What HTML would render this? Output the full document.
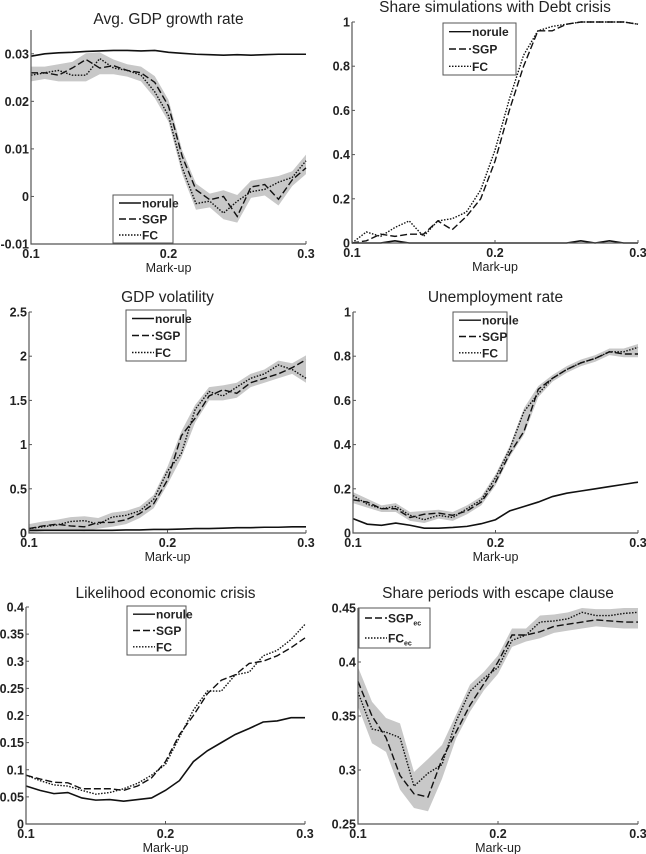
<!DOCTYPE html>
<html><head><meta charset="utf-8"><style>
body{margin:0;background:#fff;}
svg{display:block;font-family:"Liberation Sans",Arial,sans-serif;}
</style></head><body>
<svg id="fig" width="646" height="854"></svg>
<script>
const markup = [0.10,0.11,0.12,0.13,0.14,0.15,0.16,0.17,0.18,0.19,0.20,0.21,0.22,0.23,0.24,0.25,0.26,0.27,0.28,0.29,0.30];
const xTicks = [0.1,0.2,0.3];
const xTickLabels = ["0.1","0.2","0.3"];

const gdpNorule = [0.0295,0.030,0.0302,0.0303,0.0305,0.0306,0.0307,0.0307,0.0306,0.0307,0.0303,0.0301,0.0299,0.0298,0.0297,0.0298,0.0297,0.0298,0.0299,0.0299,0.0299];
const gdpSGP = [0.026,0.026,0.0255,0.027,0.0288,0.027,0.0275,0.0265,0.026,0.024,0.019,0.0084,0.0014,-0.0007,0,-0.0042,0.002,0.0025,-0.0006,0.0035,0.006];
const gdpFC = [0.0255,0.026,0.0265,0.0255,0.0255,0.029,0.027,0.0265,0.0255,0.022,0.017,0.006,-0.0015,-0.001,-0.0035,-0.001,0.001,0.0015,0.003,0.004,0.0075];
const gdpTicks = [-0.01,0,0.01,0.02,0.03];
const gdpTickLabels = ["-0.01","0","0.01","0.02","0.03"];

const debtNorule = [0,0,0,0.01,0,0,0,0,0,0,0,0,0,0,0,0,0.01,0,0.01,0,0];
const debtSGP = [0,0.01,0.04,0.03,0.04,0.04,0.1,0.06,0.12,0.2,0.37,0.6,0.8,0.96,0.96,0.99,1,1,1,1,0.99];
const debtFC = [0,0.05,0.03,0.07,0.1,0.03,0.1,0.11,0.14,0.24,0.42,0.65,0.85,0.96,0.98,0.99,1,1,1,1,0.99];
const unitTicks = [0,0.2,0.4,0.6,0.8,1];
const unitTickLabels = ["0","0.2","0.4","0.6","0.8","1"];

const volNorule = [0.03,0.03,0.03,0.03,0.03,0.03,0.03,0.035,0.035,0.04,0.04,0.045,0.05,0.05,0.055,0.06,0.06,0.065,0.065,0.07,0.07];
const volSGP = [0.05,0.08,0.1,0.08,0.07,0.12,0.12,0.15,0.22,0.33,0.6,1.1,1.3,1.55,1.62,1.58,1.7,1.75,1.8,1.87,1.96];
const volFC = [0.05,0.07,0.09,0.13,0.14,0.1,0.18,0.2,0.25,0.38,0.7,0.9,1.4,1.6,1.55,1.65,1.75,1.8,1.9,1.85,1.75];
const volTicks = [0,0.5,1,1.5,2,2.5];
const volTickLabels = ["0","0.5","1","1.5","2","2.5"];

const unNorule = [0.065,0.04,0.035,0.045,0.035,0.022,0.022,0.025,0.03,0.042,0.06,0.1,0.12,0.14,0.165,0.18,0.19,0.2,0.21,0.22,0.23];
const unSGP = [0.15,0.14,0.11,0.11,0.07,0.085,0.09,0.08,0.1,0.14,0.23,0.36,0.46,0.65,0.7,0.74,0.77,0.79,0.82,0.81,0.81];
const unFC = [0.17,0.13,0.11,0.12,0.08,0.06,0.08,0.07,0.11,0.15,0.25,0.38,0.55,0.63,0.7,0.74,0.77,0.79,0.82,0.82,0.84];

const ecNorule = [0.07,0.062,0.056,0.058,0.048,0.044,0.045,0.042,0.045,0.048,0.062,0.08,0.115,0.135,0.15,0.165,0.176,0.188,0.19,0.196,0.196];
const ecSGP = [0.09,0.083,0.077,0.076,0.065,0.065,0.065,0.062,0.07,0.085,0.115,0.165,0.2,0.24,0.265,0.275,0.296,0.3,0.31,0.325,0.343];
const ecFC = [0.09,0.08,0.072,0.07,0.062,0.055,0.058,0.065,0.075,0.09,0.11,0.16,0.21,0.245,0.245,0.275,0.28,0.31,0.32,0.34,0.368];
const ecTicks = [0,0.05,0.1,0.15,0.2,0.25,0.3,0.35,0.4];
const ecTickLabels = ["0","0.05","0.1","0.15","0.2","0.25","0.3","0.35","0.4"];

const escSGP = [0.382,0.35,0.33,0.295,0.278,0.275,0.31,0.335,0.36,0.38,0.4,0.425,0.425,0.428,0.433,0.435,0.437,0.439,0.438,0.437,0.437];
const escFC = [0.372,0.338,0.335,0.33,0.285,0.297,0.305,0.345,0.373,0.385,0.395,0.42,0.425,0.437,0.438,0.44,0.446,0.443,0.443,0.445,0.446];
const escTicks = [0.25,0.3,0.35,0.4,0.45];
const escTickLabels = ["0.25","0.3","0.35","0.4","0.45"];

const NS = "http://www.w3.org/2000/svg";
const fig = document.getElementById("fig");
function mk(tag, attrs, parent){
  const e = document.createElementNS(NS, tag);
  for (const k in attrs) e.setAttribute(k, attrs[k]);
  (parent||fig).appendChild(e);
  return e;
}

const panels = [
 {key:"gdp-growth", title:"Avg. GDP growth rate", L:31,R:306,T:30,B:244, ymin:-0.01, ymax:0.035, ticks:gdpTicks, tl:gdpTickLabels,
  series:[gdpNorule,gdpSGP,gdpFC], band:0.0013, names:["norule","SGP","FC"], leg:[113,195,60,48], titleY:24},
 {key:"debt-crisis", title:"Share simulations with Debt crisis", L:352,R:638,T:22,B:243, ymin:0, ymax:1, ticks:unitTicks, tl:unitTickLabels,
  series:[debtNorule,debtSGP,debtFC], band:0, names:["norule","SGP","FC"], leg:[443,23,73,52], titleY:12},
 {key:"gdp-volatility", title:"GDP volatility", L:29,R:306,T:312,B:533, ymin:0, ymax:2.5, ticks:volTicks, tl:volTickLabels,
  series:[volNorule,volSGP,volFC], band:0.05, names:["norule","SGP","FC"], leg:[126,310,60,51], titleY:302},
 {key:"unemployment", title:"Unemployment rate", L:353,R:638,T:312,B:533, ymin:0, ymax:1, ticks:unitTicks, tl:unitTickLabels,
  series:[unNorule,unSGP,unFC], band:0.015, names:["norule","SGP","FC"], leg:[453,312,54,49], titleY:302},
 {key:"economic-crisis", title:"Likelihood economic crisis", L:26,R:305,T:607,B:824, ymin:0, ymax:0.4, ticks:ecTicks, tl:ecTickLabels,
  series:[ecNorule,ecSGP,ecFC], band:0, names:["norule","SGP","FC"], leg:[127,606,59,49], titleY:598},
 {key:"escape-clause", title:"Share periods with escape clause", L:358,R:638,T:608,B:824, ymin:0.25, ymax:0.45, ticks:escTicks, tl:escTickLabels,
  series:[null,escSGP,escFC], band:0.006, names:[null,"SGP","FC"], leg:[359,608,71,40], titleY:598, sub:true}
];
const dashes = ["", "7,3", "1.5,1.5"];

panels.forEach(p=>{
  const g = mk("g",{});
  
  
  const xs = v => p.L + (v-0.1)/(0.2)*(p.R-p.L);
  const ys = v => p.B - (v-p.ymin)/(p.ymax-p.ymin)*(p.B-p.T);
  if (p.band>0){
    const s1 = p.series[1], s2 = p.series[2];
    let top=[], bot=[];
    markup.forEach((m,i)=>{
      let w = p.band;
      if (p.key==="escape-clause" && i<=6) w = p.band*2.2;
      const hi = Math.min(p.ymax, Math.max(s1[i],s2[i])+w);
      const lo = Math.max(p.ymin, Math.min(s1[i],s2[i])-w);
      top.push(xs(m)+","+ys(hi)); bot.unshift(xs(m)+","+ys(lo));
    });
    const b = mk("polygon",{points:top.concat(bot).join(" "),fill:"#c8c8c8",stroke:"none"},g);
    
    
  }
  p.series.forEach((s,k)=>{
    if(!s) return;
    const pts = markup.map((m,i)=>xs(m)+","+ys(s[i])).join(" ");
    const l = mk("polyline",{points:pts,fill:"none",stroke:"#111","stroke-width":k==0?1.6:1.4,"stroke-dasharray":dashes[k]},g);
    
    
  });
  const ax = mk("path",{d:`M${p.L},${p.T}V${p.B}H${p.R}`,stroke:"#555","stroke-width":1.2,fill:"none"},g);
  
  
  p.ticks.forEach((t,i)=>{
    mk("line",{x1:p.L,x2:p.L+3,y1:ys(t),y2:ys(t),stroke:"#555"},g);
    const tx = mk("text",{x:p.L-2,y:ys(t)+4.5,"text-anchor":"end","font-size":12.5,"font-weight":"bold",fill:"#222"},g);
    tx.textContent = p.tl[i];
    
    
  });
  xTicks.forEach((t,i)=>{
    mk("line",{x1:xs(t),x2:xs(t),y1:p.B,y2:p.B-3,stroke:"#555"},g);
    const tx = mk("text",{x:xs(t),y:p.B+14,"text-anchor":"middle","font-size":12.5,"font-weight":"bold",fill:"#222"},g);
    tx.textContent = xTickLabels[i];
    
    
  });
  const xl = mk("text",{x:(p.L+p.R)/2,y:p.B+28,"text-anchor":"middle","font-size":12.5,fill:"#222"},g);
  xl.textContent = "Mark-up";
  
  
  const tt = mk("text",{x:(p.L+p.R)/2,y:p.titleY,"text-anchor":"middle","font-size":15.5,fill:"#222"},g);
  tt.textContent = p.title;
  
  
  const [lx,ly,lw,lh] = p.leg;
  const lg = mk("g",{},g);
  
  
  mk("rect",{x:lx,y:ly,width:lw,height:lh,fill:"#fff",stroke:"#555","stroke-width":1},lg);
  const entries = p.names.map((n,k)=>n?k:null).filter(k=>k!==null);
  const step = lh/entries.length;
  entries.forEach((k,j)=>{
    const cy = ly + step*(j+0.5);
    mk("line",{x1:lx+6,x2:lx+28,y1:cy,y2:cy,stroke:"#111","stroke-width":1.4,"stroke-dasharray":dashes[k]},lg);
    const t = mk("text",{x:lx+29,y:cy+4.5,"font-size":12,"font-weight":"bold",fill:"#222"},lg);
    t.textContent = p.names[k];
    if (p.sub){
      const ts = mk("tspan",{"font-size":7,dy:3},t);
      ts.textContent = "ec";
    }
    
    
  });
});
</script>
</body></html>
